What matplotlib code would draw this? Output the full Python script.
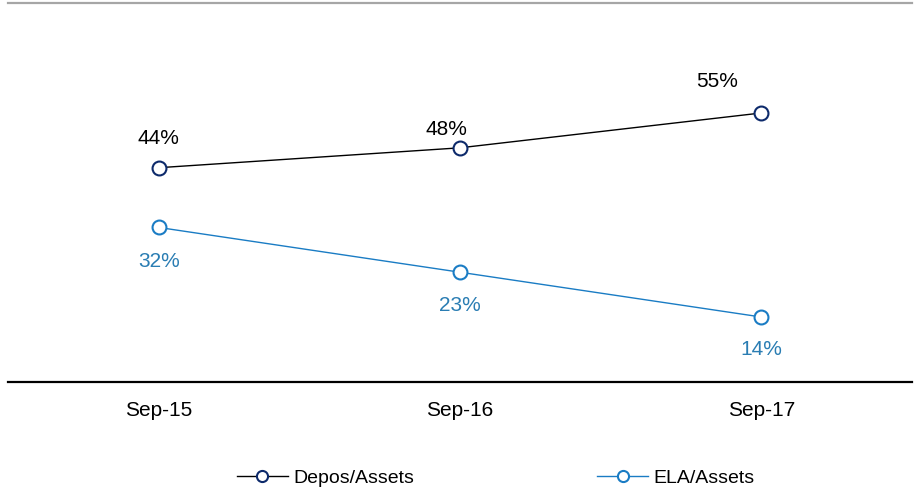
import matplotlib.pyplot as plt
import numpy as np

plt.rcParams['font.family'] = ['Liberation Sans', 'DejaVu Sans']

periods = ["Sep-15", "Sep-16", "Sep-17"]
depos_assets = [44, 48, 55]
ela_assets = [32, 23, 14]

# label offsets in pixels (dx, dy) relative to each point
depos_offsets = [(0, 29), (-14, 18), (-44, 31)]
ela_offsets = [(0, -34), (0, -33), (0, -32)]

NAVY = "#0d2a6b"
BLUE = "#1a7cc4"
LABEL_BLUE = "#2a7db3"

DPI = 100
fig = plt.figure(figsize=(9.15, 4.98), dpi=DPI)
ax = fig.add_axes([8 / 915, 116 / 498, 904 / 915, 379 / 498])

x = np.arange(len(periods))
ax.plot(x, depos_assets, color="black", lw=1.0, marker="o", ms=10,
        mfc="white", mec=NAVY, mew=1.5, zorder=3, label="Depos/Assets")
ax.plot(x, ela_assets, color=BLUE, lw=1.0, marker="o", ms=10,
        mfc="white", mec=BLUE, mew=1.5, zorder=3, label="ELA/Assets")

px = 72 / DPI
for xi, v, (dx, dy) in zip(x, depos_assets, depos_offsets):
    ax.annotate(f"{v}%", (xi, v), xytext=(dx * px, dy * px), textcoords="offset points",
                ha="center", va="center", fontsize=15, color="black")
for xi, v, (dx, dy) in zip(x, ela_assets, ela_offsets):
    ax.annotate(f"{v}%", (xi, v), xytext=(dx * px, dy * px), textcoords="offset points",
                ha="center", va="center", fontsize=15, color=LABEL_BLUE)

ax.set_xlim(-0.5, 2.5)
ax.set_ylim(0.94, 77.1)
ax.set_xticks(x)
ax.set_xticklabels(periods, fontsize=15)
ax.tick_params(axis="x", length=0, pad=14)
ax.set_yticks([])

for side in ["left", "right"]:
    ax.spines[side].set_visible(False)
ax.spines["bottom"].set_color("black")
ax.spines["bottom"].set_linewidth(1.6)
ax.spines["top"].set_color("#a6a6a6")
ax.spines["top"].set_linewidth(1.6)

leg = fig.legend(loc="center left", bbox_to_anchor=(237 / 915, 1 - 478 / 498), ncol=2,
                 frameon=False, fontsize=14, markerscale=0.8, handlelength=2.6,
                 handletextpad=0.31, columnspacing=9.4, borderpad=0, borderaxespad=0)

fig.savefig("out.png", dpi=DPI)
